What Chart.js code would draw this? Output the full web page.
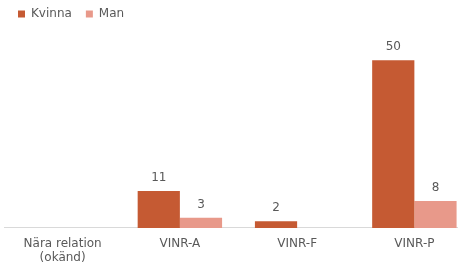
<!DOCTYPE html>
<html>
<head>
<meta charset="utf-8">
<script src="https://cdn.jsdelivr.net/npm/chart.js@4"></script>
<style>
  html, body { margin: 0; padding: 0; background: #fff; overflow: hidden; }
  #wrap { width: 473px; height: 280px; margin-top: -6px; }
</style>
</head>
<body>
<div id="wrap"><canvas id="c"></canvas></div>
<script>
const categories = [['Nära relation', '(okänd)'], 'VINR-A', 'VINR-F', 'VINR-P'];
const kvinna = [null, 11, 2, 50];
const man = [null, 3, null, 8];

const font = '"DejaVu Sans", Verdana, sans-serif';

// draws the value above each bar
const valueLabels = {
    id: 'valueLabels',
    afterDatasetsDraw(chart) {
        const ctx = chart.ctx;
        ctx.save();
        ctx.font = '12px ' + font;
        ctx.fillStyle = '#595959';
        ctx.textAlign = 'center';
        ctx.textBaseline = 'bottom';
        chart.data.datasets.forEach((ds, i) => {
            chart.getDatasetMeta(i).data.forEach((bar, j) => {
                if (ds.data[j] == null) return;
                ctx.fillText(ds.data[j], bar.x, bar.y - 7);
            });
        });
        ctx.restore();
    }
};

new Chart(document.getElementById('c'), {
    type: 'bar',
    data: {
        labels: categories,
        datasets: [
            { label: 'Kvinna', data: kvinna, backgroundColor: '#c55a33' },
            { label: 'Man', data: man, backgroundColor: '#e8998a' }
        ]
    },
    options: {
        responsive: true,
        maintainAspectRatio: false,
        animation: false,
        layout: { padding: { left: 4, right: 0, top: 0, bottom: 0 } },
        datasets: { bar: { categoryPercentage: 0.72, barPercentage: 1 } },
        plugins: {
            legend: {
                position: 'top',
                align: 'start',
                labels: {
                    boxWidth: 7,
                    boxHeight: 7,
                    padding: 14,
                    color: '#595959',
                    font: { family: font, size: 12 }
                }
            },
            tooltip: { enabled: false }
        },
        scales: {
            x: {
                grid: { display: false, drawTicks: false },
                border: { color: '#d9d9d9' },
                ticks: {
                    color: '#595959',
                    padding: 9,
                    maxRotation: 0,
                    font: { family: font, size: 12, lineHeight: 1.17 }
                }
            },
            y: {
                display: false,
                min: 0,
                max: 59
            }
        }
    },
    plugins: [valueLabels]
});
</script>
</body>
</html>
